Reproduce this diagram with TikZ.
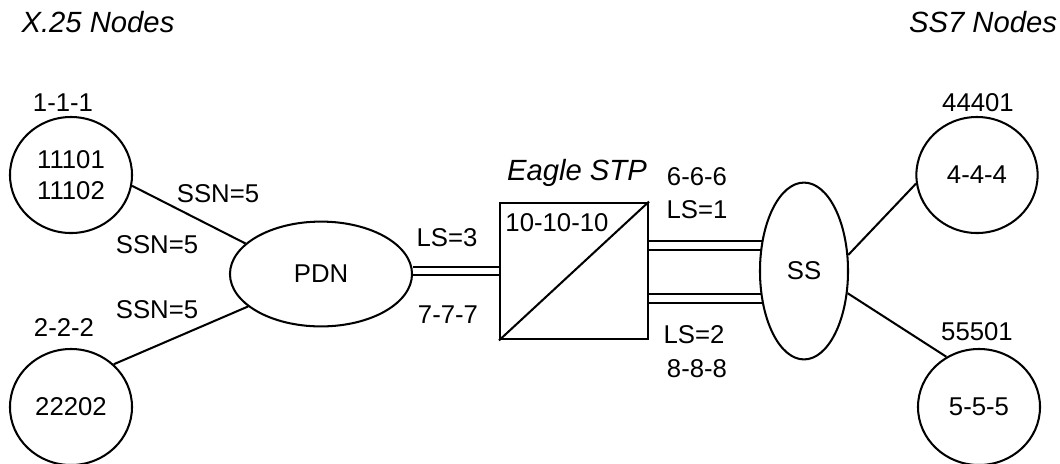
\documentclass[tikz,border=0pt]{standalone}
\usepackage{fontspec}
\setmainfont{Liberation Sans}
\usetikzlibrary{shapes.geometric, backgrounds}

\begin{document}
\begin{tikzpicture}[x=0.025cm, y=-0.025cm,
        every node/.style={font=\fontsize{18.3}{22}\selectfont},
        heading/.style={font=\fontsize{20.8}{24}\selectfont\itshape},
        site/.style={draw, ellipse, line width=1.45pt, fill=white, inner sep=0pt, align=center},
        link/.style={line width=1.45pt},
        trunk/.style={line width=1.45pt, double, double distance=4.8pt}]
      \useasboundingbox (0,0) rectangle (1060,463);
      \node[heading] (X25) at (98,22) {X.25 Nodes};
      \node[heading] (SS7) at (983,22) {SS7 Nodes};
      % X.25 side
      \node[site, minimum width=3.05cm, minimum height=2.9cm] (N1) at (71,175) {11101\\11102};
      \node (N1pc) at (63,103) {1-1-1};
      \node[site, minimum width=3.05cm, minimum height=2.9cm] (N2) at (71,407) {22202};
      \node (N2pc) at (64,328) {2-2-2};
      \node[site, minimum width=4.55cm, minimum height=2.62cm] (PDN) at (321,274) {PDN};
      \node (SSN1) at (218,194) {SSN=5};
      \node (SSN2) at (157,245) {SSN=5};
      \node (SSN3) at (157,310) {SSN=5};
      % the STP
      \node[draw, line width=1.45pt, fill=white, minimum width=3.7cm, minimum height=3.42cm] (STP) at (574,271) {};
      \draw[link] (STP.south west) -- (STP.north east);
      \node[heading] (STPname) at (577,173) {Eagle STP};
      \node (STPpc) at (557,223) {10-10-10};
      \node (LS3) at (447,238) {LS=3};
      \node (PC7) at (448,315) {7-7-7};
      % SS7 side
      \node[site, minimum width=2.2cm, minimum height=4.42cm] (SS) at (804,271) {SS};
      \node (PC6) at (697,177) {6-6-6};
      \node (LS1) at (697,210) {LS=1};
      \node (LS2) at (694,335) {LS=2};
      \node (PC8) at (697,369) {8-8-8};
      \node[site, minimum width=3.03cm, minimum height=2.9cm] (N4) at (977,175) {4-4-4};
      \node (N4pc) at (978,103) {44401};
      \node[site, minimum width=3.05cm, minimum height=2.9cm] (N5) at (979,407) {5-5-5};
      \node (N5pc) at (977,332) {55501};
      \begin{scope}[on background layer]
        \draw[link] (N1.-10) -- (PDN.158);
        \draw[link] (N2.45) -- (PDN.204);
        \draw[trunk] (PDN.east |- STP.west) -- (STP.west);
        \draw[trunk] ([yshift=0.63cm]STP.east) -- ([yshift=0.63cm]SS.center);
        \draw[trunk] ([yshift=-0.68cm]STP.east) -- ([yshift=-0.68cm]SS.center);
        \draw[link] (SS.20) -- (N4.188);
        \draw[link] (SS.-27) -- (N5.123);
      \end{scope}
    \end{tikzpicture}
\end{document}
